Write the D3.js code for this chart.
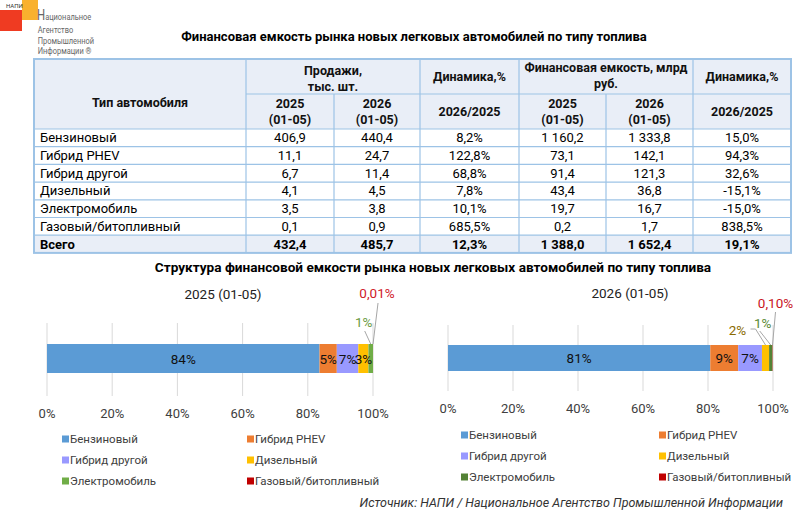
<!DOCTYPE html>
<html>
<head>
<meta charset="utf-8">
<script src="https://cdn.jsdelivr.net/npm/d3@7"></script>
<style>
body { margin: 0; background: #fff; }
svg { display: block; font-family: Roboto, "Noto Sans", sans-serif; }
</style>
</head>
<body>
<div id="chart"></div>
<script>
// --- data ---
var types = ["Бензиновый", "Гибрид PHEV", "Гибрид другой", "Дизельный", "Электромобиль", "Газовый/битопливный"];
var sales2025 = [406.9, 11.1, 6.7, 4.1, 3.5, 0.1];
var sales2026 = [440.4, 24.7, 11.4, 4.5, 3.8, 0.9];
var salesDyn = [8.2, 122.8, 68.8, 7.8, 10.1, 685.5];
var cap2025 = [1160.2, 73.1, 91.4, 43.4, 19.7, 0.2];
var cap2026 = [1333.8, 142.1, 121.3, 36.8, 16.7, 1.7];
var capDyn = [15.0, 94.3, 32.6, -15.1, -15.0, 838.5];
var totals = [432.4, 485.7, 12.3, 1388.0, 1652.4, 19.1];

// shares of financial capacity, %
var share2025 = [83.6, 5.3, 6.6, 3.1, 1.4, 0.01];
var share2026 = [80.7, 8.6, 7.3, 2.2, 1.0, 0.1];
var ticks = [0, 20, 40, 60, 80, 100];

var w = 801, h = 515;

var ru = d3.formatLocale({decimal: ",", thousands: " ", grouping: [3], currency: ["", ""], minus: "-"});
var fNum = ru.format(",.1f");
var fPct = function(v) { return fNum(v) + "%"; };

var svg = d3.select("#chart").append("svg")
    .attr("width", w)
    .attr("height", h);

// --- logo ---
var logo = svg.append("g");
logo.append("rect").attr("x", 22).attr("y", 0).attr("width", 16).attr("height", 20).attr("fill", "#f9b12e");
logo.append("rect").attr("x", 0).attr("y", 10).attr("width", 22).attr("height", 21).attr("fill", "#ef3b22");
logo.append("text").attr("x", 6).attr("y", 8).attr("font-size", 6).attr("fill", "#333").text("НАПИ");

// condensed lettering, squeezed horizontally
var logoText = logo.append("g").attr("transform", "translate(37,0) scale(0.76,1)");
var first = logoText.append("text").attr("x", 0).attr("y", 20).attr("fill", "#666");
first.append("tspan").attr("font-size", 15).text("Н");
first.append("tspan").attr("font-size", 9.8).text("ациональное");
["Агентство", "Промышленной", "Информации ®"].forEach(function(t, i) {
    logoText.append("text").attr("x", 1).attr("y", 33.5 + i * 10.5).attr("font-size", 9.8)
        .attr("fill", "#666").text(t);
});

// --- title ---
svg.append("text")
    .attr("x", 414).attr("y", 41)
    .attr("text-anchor", "middle")
    .attr("font-size", 13).attr("font-weight", "bold")
    .text("Финансовая емкость рынка новых легковых автомобилей по типу топлива");

// --- table ---
var colX = [34, 246, 334, 420, 519, 606, 693, 791];
var headTop = 59, headMid = 94, headBot = 129, rowH = 17.7;
var nRows = types.length + 1;
var tableBot = headBot + nRows * rowH;
var lineCol = "#9dc3e6", headFill = "#e9eef7";

var table = svg.append("g");

table.append("rect")
    .attr("x", colX[0]).attr("y", headTop)
    .attr("width", colX[7] - colX[0]).attr("height", headBot - headTop)
    .attr("fill", headFill);
table.append("rect")
    .attr("x", colX[0]).attr("y", headBot + types.length * rowH)
    .attr("width", colX[7] - colX[0]).attr("height", rowH)
    .attr("fill", headFill);

// horizontal lines
var hLines = [{y: headMid, x0: colX[1], x1: colX[7]}, {y: headBot, x0: colX[0], x1: colX[7]}];
d3.range(1, nRows).forEach(function(i) {
    hLines.push({y: headBot + i * rowH, x0: colX[0], x1: colX[7]});
});
table.selectAll(".hl").data(hLines).enter().append("line")
    .attr("x1", function(d) { return d.x0; })
    .attr("x2", function(d) { return d.x1; })
    .attr("y1", function(d) { return d.y; })
    .attr("y2", function(d) { return d.y; })
    .attr("stroke", lineCol).attr("stroke-width", 1.2);

// vertical lines (cols 2 and 5 start under the merged header)
table.selectAll(".vl").data(colX.slice(1, 7)).enter().append("line")
    .attr("x1", function(d) { return d; })
    .attr("x2", function(d) { return d; })
    .attr("y1", function(d, i) { return (i === 1 || i === 4) ? headMid : headTop; })
    .attr("y2", tableBot)
    .attr("stroke", lineCol).attr("stroke-width", 1.2);

table.append("rect")
    .attr("x", colX[0]).attr("y", headTop)
    .attr("width", colX[7] - colX[0]).attr("height", tableBot - headTop)
    .attr("fill", "none").attr("stroke", lineCol).attr("stroke-width", 2);

// header texts
var mid = function(a, b) { return (colX[a] + colX[b]) / 2; };
var headers = [
    {x: mid(0, 1), y: 107, lines: ["Тип автомобиля"]},
    {x: mid(1, 3), y: 75, lines: ["Продажи,", "тыс. шт."]},
    {x: mid(3, 4), y: 81, lines: ["Динамика,%"]},
    {x: mid(4, 6), y: 72, lines: ["Финансовая емкость, млрд", "руб."]},
    {x: mid(6, 7), y: 81, lines: ["Динамика,%"]},
    {x: mid(1, 2), y: 108, lines: ["2025", "(01-05)"]},
    {x: mid(2, 3), y: 108, lines: ["2026", "(01-05)"]},
    {x: mid(3, 4), y: 116, lines: ["2026/2025"]},
    {x: mid(4, 5), y: 108, lines: ["2025", "(01-05)"]},
    {x: mid(5, 6), y: 108, lines: ["2026", "(01-05)"]},
    {x: mid(6, 7), y: 116, lines: ["2026/2025"]}
];
headers.forEach(function(hd) {
    var t = table.append("text")
        .attr("text-anchor", "middle")
        .attr("font-size", 12.5).attr("font-weight", "bold")
        .attr("fill", "#111");
    hd.lines.forEach(function(l, i) {
        t.append("tspan").attr("x", hd.x).attr("y", hd.y + i * 16).text(l);
    });
});

// body rows
var rows = types.map(function(t, i) {
    return {name: t, vals: [fNum(sales2025[i]), fNum(sales2026[i]), fPct(salesDyn[i]),
        fNum(cap2025[i]), fNum(cap2026[i]), fPct(capDyn[i])], bold: false};
});
rows.push({name: "Всего", vals: [fNum(totals[0]), fNum(totals[1]), fPct(totals[2]),
    fNum(totals[3]), fNum(totals[4]), fPct(totals[5])], bold: true});

rows.forEach(function(r, i) {
    var y = headBot + i * rowH + rowH / 2 + 4.5;
    table.append("text")
        .attr("x", colX[0] + 6).attr("y", y)
        .attr("font-size", 13)
        .attr("font-weight", r.bold ? "bold" : "normal")
        .text(r.name);
    r.vals.forEach(function(v, j) {
        table.append("text")
            .attr("x", mid(j + 1, j + 2)).attr("y", y)
            .attr("text-anchor", "middle")
            .attr("font-size", 13)
            .attr("font-weight", r.bold ? "bold" : "normal")
            .text(v);
    });
});

// --- subtitle ---
svg.append("text")
    .attr("x", 433).attr("y", 272)
    .attr("text-anchor", "middle")
    .attr("font-size", 13.6).attr("font-weight", "bold")
    .text("Структура финансовой емкости рынка новых легковых автомобилей по типу топлива");

// --- stacked share bars ---
function drawBar(cfg) {
    var g = svg.append("g");
    var x = d3.scaleLinear().domain([0, 100]).range([cfg.x0, cfg.x1]);

    var row = {};
    types.forEach(function(t, i) { row[t] = cfg.values[i]; });
    var series = d3.stack().keys(types)([row]);

    g.append("text")
        .attr("x", cfg.titleX).attr("y", cfg.titleY)
        .attr("text-anchor", "middle")
        .attr("font-size", 13.5).attr("fill", "#222")
        .text(cfg.title);

    g.selectAll(".grid").data(ticks).enter().append("line")
        .attr("x1", function(d) { return x(d); })
        .attr("x2", function(d) { return x(d); })
        .attr("y1", cfg.gridTop).attr("y2", cfg.gridBot)
        .attr("stroke", "#d9d9d9").attr("stroke-width", 1);

    g.selectAll(".tick").data(ticks).enter().append("text")
        .attr("x", function(d) { return x(d); })
        .attr("y", cfg.tickY)
        .attr("text-anchor", "middle")
        .attr("font-size", 13).attr("fill", "#404040")
        .text(function(d) { return d + "%"; });

    g.selectAll(".seg").data(series).enter().append("rect")
        .attr("x", function(d) { return x(d[0][0]); })
        .attr("width", function(d) { return x(d[0][1]) - x(d[0][0]); })
        .attr("y", cfg.barY).attr("height", cfg.barH)
        .attr("fill", function(d, i) { return cfg.colors[i]; });

    var fmtShare = function(v) {
        return v < 0.5 ? ru.format(".2f")(v) + "%" : Math.round(v) + "%";
    };

    // labels inside the bar
    series.slice(0, cfg.inside).forEach(function(s, i) {
        g.append("text")
            .attr("x", x((s[0][0] + s[0][1]) / 2))
            .attr("y", cfg.barY + cfg.barH / 2 + 5)
            .attr("text-anchor", "middle")
            .attr("font-size", 13.5).attr("fill", "#111")
            .text(fmtShare(cfg.values[i]));
    });

    // labels outside with leader lines
    cfg.outside.forEach(function(o) {
        var s = series[o.i];
        var cx = x((s[0][0] + s[0][1]) / 2);
        var pts = o.leader.map(function(p) { return [cx + p[0], p[1]]; });
        pts.push([cx, cfg.barY]);
        g.append("path")
            .attr("d", d3.line()(pts))
            .attr("fill", "none")
            .attr("stroke", "#a6a6a6").attr("stroke-width", 1);
        g.append("text")
            .attr("x", cx + o.dx).attr("y", o.y)
            .attr("text-anchor", "middle")
            .attr("font-size", 13.5).attr("fill", o.color)
            .text(fmtShare(cfg.values[o.i]));
    });

    // legend
    types.forEach(function(t, i) {
        var lx = cfg.legX[i % 2], ly = cfg.legY[Math.floor(i / 2)];
        g.append("rect")
            .attr("x", lx).attr("y", ly - 3.5)
            .attr("width", 7).attr("height", 7)
            .attr("fill", cfg.colors[i]);
        g.append("text")
            .attr("x", lx + 8).attr("y", ly + 4)
            .attr("font-size", 11.5).attr("fill", "#404040")
            .text(t);
    });
}

drawBar({
    title: "2025 (01-05)", titleX: 223, titleY: 299,
    values: share2025,
    x0: 47, x1: 373, barY: 344, barH: 29,
    gridTop: 323, gridBot: 396, tickY: 418,
    colors: ["#5b9bd5", "#ed7d31", "#9999ff", "#ffc000", "#70ad47", "#c00000"],
    inside: 4,
    outside: [
        {i: 4, dx: -7, y: 327, color: "#6a9a3f", leader: [[-6, 331]]},
        {i: 5, dx: 4, y: 298, color: "#d0202a", leader: [[5, 303]]}
    ],
    legX: [62, 247], legY: [439, 460, 481]
});

drawBar({
    title: "2026 (01-05)", titleX: 630, titleY: 298,
    values: share2026,
    x0: 448, x1: 773, barY: 345, barH: 26,
    gridTop: 325, gridBot: 391, tickY: 413,
    colors: ["#5b9bd5", "#ed7d31", "#9999ff", "#ffc000", "#548235", "#c00000"],
    inside: 3,
    outside: [
        {i: 3, dx: -28, y: 335, color: "#8a6a00", leader: [[-15, 329], [-10, 329]]},
        {i: 4, dx: -8, y: 328, color: "#5a8a35", leader: [[-11, 331]]},
        {i: 5, dx: 3, y: 308, color: "#c8141e", leader: [[3, 312]]}
    ],
    legX: [461, 659], legY: [435, 456, 477]
});

// --- source ---
svg.append("text")
    .attr("x", 783).attr("y", 507)
    .attr("text-anchor", "end")
    .attr("font-size", 12.5).attr("font-style", "italic")
    .attr("fill", "#333")
    .text("Источник: НАПИ / Национальное Агентство Промышленной Информации");
</script>
</body>
</html>
